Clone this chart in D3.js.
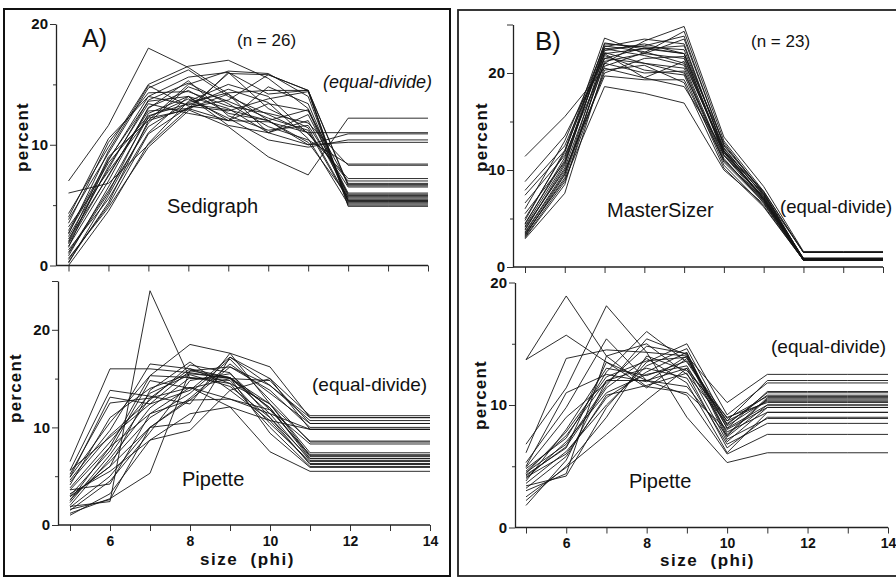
<!DOCTYPE html>
<html><head><meta charset="utf-8">
<script src="https://cdn.jsdelivr.net/npm/d3@7"></script>
<style>
body{margin:0;background:#fff}
svg{display:block}
text{font-family:"Liberation Sans",Arial,sans-serif;fill:#111}
</style></head>
<body><svg id="c" width="896" height="578"></svg>
<script>
// ---------- DATA ----------
const phi = [5,6,7,8,9,10,11,12,13,14];
const xTickValues = [5,6,7,8,9,10,11,12,13,14];
const xTickLabels = [6,8,10,12,14];
const yTickLabels = [0,10,20];

// A) Sedigraph, n = 26 (percent per phi class; equal-divide beyond 11)
const sedigraphA = [
 [7.0,11.6,18.0,16.4,14.2,12.0,10.0,10.2,10.2,10.2],
 [6.0,6.8,10.0,13.0,15.9,15.8,14.5,6.6,6.6,6.6],
 [4.3,9.8,15.0,16.5,17.0,15.5,13.0,5.8,5.8,5.8],
 [3.8,9.3,14.7,16.2,14.0,12.5,11.0,11.0,11.0,11.0],
 [2.9,8.7,14.0,15.6,16.0,14.2,14.5,5.0,5.0,5.0],
 [2.4,8.0,13.7,15.1,13.4,11.5,10.4,8.4,8.4,8.4],
 [1.6,7.0,13.1,14.5,12.6,12.0,12.9,5.4,5.4,5.4],
 [1.0,6.0,12.6,14.0,12.0,14.8,13.4,5.6,5.6,5.6],
 [0.0,4.5,10.1,13.6,15.0,14.0,10.9,7.2,7.2,7.2],
 [0.5,5.0,10.9,13.1,13.7,15.8,14.5,5.2,5.2,5.2],
 [2.0,9.0,12.0,13.0,14.2,11.0,12.5,6.0,6.0,6.0],
 [3.2,7.8,12.2,12.9,11.5,9.0,7.5,12.2,12.2,12.2],
 [1.3,5.5,11.0,14.0,11.6,11.0,10.0,10.9,10.9,10.9],
 [2.6,9.5,14.9,13.2,12.8,13.8,14.4,4.9,4.9,4.9],
 [0.8,6.5,12.3,13.8,12.2,10.4,9.8,10.4,10.4,10.4],
 [1.9,8.2,13.4,12.6,12.0,11.9,11.0,7.0,7.0,7.0],
 [3.5,10.2,14.3,14.4,13.2,12.6,11.8,8.3,8.3,8.3],
 [0.3,5.2,12.0,15.0,16.1,15.9,14.0,5.3,5.3,5.3],
 [1.1,6.2,11.5,13.5,14.3,14.5,14.5,6.7,6.7,6.7],
 [2.2,7.4,13.0,15.3,12.4,11.2,11.6,6.5,6.5,6.5],
 [0.6,4.8,9.8,12.8,16.0,13.0,11.4,5.5,5.5,5.5],
 [1.5,8.8,13.6,14.0,13.0,11.0,12.0,5.9,5.9,5.9],
 [4.0,10.5,14.0,13.3,14.6,13.5,10.5,5.1,5.1,5.1],
 [0.2,5.8,11.8,14.8,13.6,12.2,11.2,5.4,5.4,5.4],
 [1.8,7.5,12.8,13.0,12.0,13.4,12.8,6.8,6.8,6.8],
 [2.7,8.5,12.4,13.4,12.9,12.0,10.2,5.7,5.7,5.7]
];

// A) Pipette, n = 26
const pipetteA = [
 [1.9,2.4,24.0,15.0,15.1,12.4,8.6,8.6,8.6,8.6],
 [6.5,16.0,16.0,15.6,15.0,14.8,10.4,10.4,10.4,10.4],
 [5.6,13.8,13.2,12.4,17.6,16.2,11.0,11.0,11.0,11.0],
 [4.9,13.1,12.4,13.8,17.2,14.3,10.7,10.7,10.7,10.7],
 [4.6,9.7,16.5,16.0,15.1,11.4,6.6,6.6,6.6,6.6],
 [3.6,8.0,15.3,18.5,17.6,12.4,7.1,7.1,7.1,7.1],
 [2.9,6.0,13.8,16.7,13.8,10.7,6.3,6.3,6.3,6.3],
 [1.2,2.7,5.3,15.8,16.2,13.8,10.0,10.0,10.0,10.0],
 [1.0,3.2,8.7,9.7,13.8,15.0,11.2,11.2,11.2,11.2],
 [3.6,4.2,11.4,14.1,12.9,11.4,9.8,9.8,9.8,9.8],
 [2.9,6.0,10.0,10.5,17.2,15.0,9.8,9.8,9.8,9.8],
 [5.6,9.0,12.4,15.8,15.1,9.4,5.9,5.9,5.9,5.9],
 [2.3,7.2,13.0,14.1,12.1,7.5,5.5,5.5,5.5,5.5],
 [4.9,10.5,15.3,15.1,14.5,12.4,7.4,7.4,7.4,7.4],
 [1.8,5.0,10.0,12.8,16.2,14.3,11.0,11.0,11.0,11.0],
 [2.5,8.0,11.4,12.8,12.9,11.8,8.3,8.3,8.3,8.3],
 [4.1,11.0,14.0,15.5,15.1,12.0,6.8,6.8,6.8,6.8],
 [3.2,5.5,8.7,11.4,12.1,10.7,9.8,9.8,9.8,9.8],
 [1.5,4.5,9.5,14.8,15.5,11.8,7.2,7.2,7.2,7.2],
 [5.2,12.5,13.0,16.0,14.5,10.0,6.0,6.0,6.0,6.0],
 [2.0,6.8,12.0,15.1,14.8,10.4,6.5,6.5,6.5,6.5],
 [3.0,7.6,14.8,14.0,15.0,12.0,7.0,7.0,7.0,7.0],
 [1.6,2.6,10.0,13.0,16.5,13.5,10.4,10.4,10.4,10.4],
 [4.4,9.2,12.8,16.4,15.6,11.0,6.8,6.8,6.8,6.8],
 [2.6,6.5,11.0,13.5,17.0,12.8,8.5,8.5,8.5,8.5],
 [3.8,8.5,13.5,15.4,14.2,11.0,6.2,6.2,6.2,6.2]
];

// B) MasterSizer, n = 23
const masterSizerB = [
 [11.4,15.5,20.5,19.5,18.6,12.0,7.0,0.8,0.8,0.8],
 [8.8,13.5,21.5,21.0,20.0,11.5,6.8,0.8,0.8,0.8],
 [7.9,12.5,22.0,22.5,22.0,12.8,7.5,1.5,1.5,1.5],
 [7.4,12.0,23.6,22.0,21.5,11.8,7.2,0.7,0.7,0.7],
 [6.6,11.5,21.0,23.3,24.8,13.4,8.3,1.6,1.6,1.6],
 [5.5,10.8,22.5,22.8,23.8,12.5,7.6,0.8,0.8,0.8],
 [4.1,10.0,19.7,19.3,19.3,11.0,7.0,0.7,0.7,0.7],
 [3.4,9.0,18.6,17.9,16.9,10.0,6.5,0.7,0.7,0.7],
 [2.9,7.6,20.7,22.1,24.3,13.0,7.8,1.5,1.5,1.5],
 [3.2,9.5,22.1,21.0,20.5,11.0,6.8,0.8,0.8,0.8],
 [3.8,10.5,22.8,22.2,21.0,12.2,7.4,0.9,0.9,0.9],
 [4.5,11.0,23.1,22.5,22.8,12.0,7.0,0.8,0.8,0.8],
 [3.0,8.5,21.8,20.3,19.8,10.5,6.3,0.7,0.7,0.7],
 [3.6,9.8,20.0,21.5,21.7,11.5,7.2,0.8,0.8,0.8],
 [4.8,12.0,22.3,23.0,22.0,11.8,6.9,0.9,0.9,0.9],
 [3.3,9.2,21.2,22.0,23.5,12.6,7.7,0.8,0.8,0.8],
 [4.2,10.7,22.5,21.8,20.8,11.2,6.6,0.7,0.7,0.7],
 [5.0,11.8,23.0,22.7,22.4,12.3,7.3,0.8,0.8,0.8],
 [3.1,8.8,20.3,20.8,19.0,10.2,6.2,0.7,0.7,0.7],
 [3.9,10.2,21.5,22.6,22.0,11.6,7.1,0.9,0.9,0.9],
 [4.4,11.3,22.0,19.5,21.2,11.9,7.5,0.8,0.8,0.8],
 [3.5,9.6,21.0,20.0,20.2,10.8,6.7,0.7,0.7,0.7],
 [6.0,13.0,22.7,23.5,23.0,12.0,7.8,1.5,1.5,1.5]
];

// B) Pipette, n = 23
const pipetteB = [
 [13.7,18.9,14.0,11.5,11.0,8.0,9.8,9.8,9.8,9.8],
 [13.7,15.7,13.5,12.0,11.5,7.5,10.5,10.5,10.5,10.5],
 [6.8,11.4,18.1,14.3,9.0,5.3,6.1,6.1,6.1,6.1],
 [6.1,13.8,14.5,14.3,14.0,10.2,12.5,12.5,12.5,12.5],
 [5.3,9.8,15.4,12.0,10.8,6.0,7.6,7.6,7.6,7.6],
 [4.8,7.3,12.7,16.0,13.5,8.7,10.3,10.3,10.3,10.3],
 [4.5,6.8,11.6,15.4,14.1,8.1,11.1,11.1,11.1,11.1],
 [4.1,6.0,10.6,12.7,14.3,7.6,10.6,10.6,10.6,10.6],
 [3.4,4.2,9.8,13.5,15.0,9.2,11.8,11.8,11.8,11.8],
 [2.5,4.9,7.6,10.4,13.0,8.7,12.0,12.0,12.0,12.0],
 [1.8,5.5,12.0,13.0,12.2,6.8,8.5,8.5,8.5,8.5],
 [4.3,6.5,13.5,11.4,13.8,8.1,10.0,10.0,10.0,10.0],
 [4.0,7.0,11.0,12.5,13.2,7.8,9.4,9.4,9.4,9.4],
 [3.0,4.4,14.0,15.0,12.5,8.5,10.8,10.8,10.8,10.8],
 [5.0,11.0,12.5,11.9,14.0,7.2,8.9,8.9,8.9,8.9],
 [3.6,6.2,10.0,13.2,14.6,8.4,11.0,11.0,11.0,11.0],
 [4.6,7.5,12.0,12.0,13.0,7.0,9.8,9.8,9.8,9.8],
 [2.2,5.0,9.0,14.0,12.8,9.0,10.2,10.2,10.2,10.2],
 [4.2,6.6,11.4,13.8,11.8,6.1,9.4,9.4,9.4,9.4],
 [3.8,8.0,13.0,12.4,13.6,8.9,10.7,10.7,10.7,10.7],
 [4.9,9.0,11.8,14.8,14.2,7.4,10.0,10.0,10.0,10.0],
 [3.2,5.8,10.8,11.6,12.6,6.5,9.0,9.0,9.0,9.0],
 [4.4,7.8,12.3,13.6,13.9,8.3,10.4,10.4,10.4,10.4]
];

// ---------- LAYOUT ----------
const svg = d3.select("#c");
svg.append("rect").attr("width",896).attr("height",578).attr("fill","#fff");

// panel frames
svg.append("rect").attr("x",4).attr("y",9).attr("width",446).attr("height",567)
  .attr("fill","none").attr("stroke","#111").attr("stroke-width",2);
svg.append("rect").attr("x",458).attr("y",10).attr("width",445).attr("height",566)
  .attr("fill","none").attr("stroke","#222").attr("stroke-width",1.8);

const plots = [
  {data:sedigraphA, axisX:56, x0:68.5, x1:428, y0:265.5, yMax:20, yTop:24, tickLabels:false},
  {data:pipetteA,   axisX:58, x0:70,   x1:430, y0:525,   yMax:25, yTop:281, tickLabels:true},
  {data:masterSizerB, axisX:513, x0:525, x1:883, y0:267, yMax:25, yTop:24.5, tickLabels:false},
  {data:pipetteB,   axisX:515, x0:526, x1:888, y0:527.5, yMax:20, yTop:282.5, tickLabels:true}
];

plots.forEach(p => {
  const x = d3.scaleLinear().domain([5,14]).range([p.x0,p.x1]);
  const y = d3.scaleLinear().domain([0,p.yMax]).range([p.y0,p.yTop]);
  const g = svg.append("g");

  // lines
  const line = d3.line().x((d,i)=>x(phi[i])).y(d=>y(d));
  g.selectAll("path.s").data(p.data).join("path").attr("class","s")
    .attr("d",line).attr("fill","none").attr("stroke","#151515")
    .attr("stroke-width",0.9).attr("stroke-linejoin","miter");

  // x axis
  const xa = d3.axisBottom(x).tickValues(xTickValues).tickSize(6).tickSizeOuter(0)
    .tickFormat(d => p.tickLabels && xTickLabels.includes(d) ? d : "");
  const gx = g.append("g").attr("transform",`translate(0,${p.y0})`).call(xa);
  gx.select(".domain").remove();
  gx.append("line").attr("x1",p.axisX).attr("x2",p.x1).attr("y1",0).attr("y2",0)
    .attr("stroke","#222").attr("stroke-width",1.3);
  gx.selectAll(".tick line").attr("stroke","#333").attr("stroke-width",1);
  gx.selectAll(".tick text").attr("font-size",14).attr("font-weight","bold")
    .attr("font-family","Liberation Sans, Arial, sans-serif").attr("fill","#111")
    .attr("y",8).attr("dy","0.9em");

  // y axis
  const yTickVals = d3.range(0,p.yMax+0.1,5);
  const ya = d3.axisLeft(y).tickValues(yTickVals).tickSize(5).tickSizeOuter(0)
    .tickFormat(d => yTickLabels.includes(d) ? d : "");
  const gy = g.append("g").attr("transform",`translate(${p.axisX},0)`).call(ya);
  gy.select(".domain").attr("stroke","#222").attr("stroke-width",1.3);
  gy.selectAll(".tick line").attr("stroke","#333").attr("stroke-width",1)
    .attr("x2", d => (d % 10 === 0 || d === p.yMax) ? -6 : -3);
  gy.selectAll(".tick text").attr("font-size",15).attr("font-weight","bold")
    .attr("font-family","Liberation Sans, Arial, sans-serif").attr("fill","#111").attr("x",-8);
});

// ---------- TEXT ----------
function txt(t, x, y, size, opts={}) {
  const e = svg.append("text").attr("x",x).attr("y",y).attr("font-size",size).text(t)
    .style("white-space","pre");
  if (opts.bold) e.attr("font-weight","bold");
  if (opts.italic) e.attr("font-style","italic");
  if (opts.anchor) e.attr("text-anchor",opts.anchor);
  if (opts.ls) e.attr("letter-spacing",opts.ls);
  if (opts.rot) e.attr("transform",`rotate(-90,${x},${y})`);
  return e;
}
// panel A
txt("A)", 82, 47, 25);
txt("(n = 26)", 237, 46, 17);
txt("(equal-divide)", 323, 88, 18, {italic:true});
txt("Sedigraph", 167, 213, 20);
txt("percent", 28, 137, 17, {bold:true, anchor:"middle", ls:1.2, rot:true});
txt("(equal-divide)", 312, 391, 19);
txt("Pipette", 182, 486, 20);
txt("percent", 21, 388, 17, {bold:true, anchor:"middle", ls:1.2, rot:true});
txt("size  (phi)", 200, 565, 17, {bold:true, ls:1.5});
// panel B
txt("B)", 535, 50, 26);
txt("(n = 23)", 751, 47, 17);
txt("MasterSizer", 607, 217, 20);
txt("(equal-divide)", 780, 213, 18.5);
txt("percent", 487, 137, 17, {bold:true, anchor:"middle", ls:1.2, rot:true});
txt("(equal-divide)", 771, 353, 19);
txt("Pipette", 629, 488, 20);
txt("percent", 486, 395, 17, {bold:true, anchor:"middle", ls:1.2, rot:true});
txt("size  (phi)", 660, 566, 17, {bold:true, ls:1.5});
</script>
</body></html>
